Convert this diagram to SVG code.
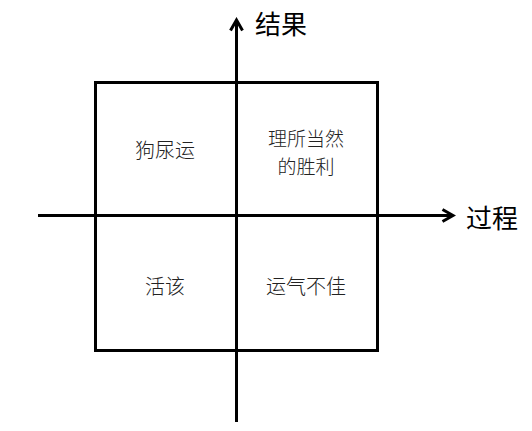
<svg xmlns="http://www.w3.org/2000/svg" width="532" height="431" viewBox="0 0 532 431">
<style>
.ax{stroke:#000;stroke-width:3;fill:none}
.q{font-family:"Noto Sans CJK SC","Liberation Sans",sans-serif;font-size:20px;font-weight:300;fill:#222;text-anchor:middle}
.q2{font-size:19px}
.al{font-family:"Noto Sans CJK SC","Liberation Sans",sans-serif;font-size:26px;fill:#000}
</style>
<defs>
<marker id="ah" viewBox="0 0 10 10" refX="8" refY="5" markerWidth="5" markerHeight="5" orient="auto" markerUnits="strokeWidth">
<path d="M1,1 L8,5 L1,9" fill="none" stroke="#000" stroke-width="2"/>
</marker>
</defs>
<rect width="532" height="431" fill="#fff"/>
<g id="box"><rect x="95.5" y="82.5" width="282" height="268" class="ax"/></g>
<g id="connectors">
<line x1="236.5" y1="422" x2="236.5" y2="20" class="ax" marker-end="url(#ah)"/>
<line x1="38" y1="215.5" x2="453" y2="215.5" class="ax" marker-end="url(#ah)"/>
</g>
<g id="yLabel"><text x="255" y="34" class="al">结果</text></g>
<g id="xLabel"><text x="466" y="228" class="al">过程</text></g>
<g id="q1"><text x="165" y="158" class="q">狗尿运</text></g>
<g id="q2"><text x="306" y="146" class="q q2">理所当然</text><text x="306" y="174" class="q q2">的胜利</text></g>
<g id="q3"><text x="165" y="294" class="q">活该</text></g>
<g id="q4"><text x="306" y="294" class="q">运气不佳</text></g>
</svg>
